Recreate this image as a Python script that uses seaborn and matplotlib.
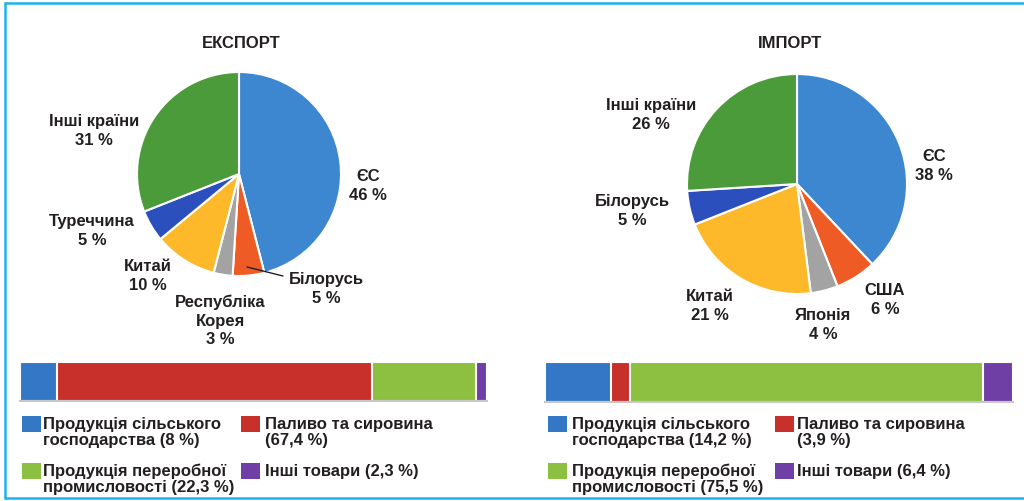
import matplotlib.pyplot as plt
import seaborn as sns
from matplotlib.patches import Rectangle

# --- дані ---
export_countries = ["ЄС", "Білорусь", "Республіка\nКорея", "Китай", "Туреччина", "Інші країни"]
export_shares = [46, 5, 3, 10, 5, 31]
import_countries = ["ЄС", "США", "Японія", "Китай", "Білорусь", "Інші країни"]
import_shares = [38, 6, 4, 21, 5, 26]

goods_names = ["Продукція сільського\nгосподарства", "Продукція переробної\nпромисловості",
               "Паливо та сировина", "Інші товари"]
export_goods = [8, 22.3, 67.4, 2.3]
import_goods = [14.2, 75.5, 3.9, 6.4]
bar_order = [0, 2, 1, 3]  # порядок сегментів у смузі

# --- оформлення ---
sns.set_theme(style="white")
plt.rcParams["font.family"] = ["Liberation Sans", "DejaVu Sans"]

country_colors = ["#3d86d0", "#ee5b25", "#a3a3a3", "#fdb92a", "#2b50be", "#4c9b3a"]
goods_colors = ["#3477c6", "#8dbf41", "#c8302b", "#6f3fa6"]
text_color = "#231f20"
fs = 12

export_label_pos = [(368, 186), (326, 289), (220, 321), (148, 276), (92, 231), (94, 131)]
import_label_pos = [(934, 166), (885, 300), (823, 325), (710, 306), (632, 211), (651, 115)]


def pct(v):
    return f"{v:g}".replace(".", ",")


fig = plt.figure(figsize=(10.24, 5.02), dpi=100)
ax = fig.add_axes([0, 0, 1, 1])


def draw_pie(shares, names, center, radius, label_pos):
    ax.pie(
        shares,
        colors=country_colors,
        center=center,
        radius=radius,
        startangle=-90,
        counterclock=True,
        wedgeprops=dict(edgecolor="white", linewidth=1.5),
    )
    for name, v, (x, y) in zip(names, shares, label_pos):
        ax.text(x, y, f"{name}\n{pct(v)} %", ha="center", va="center", fontsize=fs,
                fontweight="bold", color=text_color, linespacing=1.3)


draw_pie(export_shares, export_countries, (239, 175), 102, export_label_pos)
draw_pie(import_shares, import_countries, (797, 185), 110, import_label_pos)

ax.text(241, 43, "ЕКСПОРТ", ha="center", va="center", fontsize=fs, fontweight="bold", color=text_color)
ax.text(790, 44, "ІМПОРТ", ha="center", va="center", fontsize=fs, fontweight="bold", color=text_color)
ax.plot([247, 283], [268, 277], color=text_color, lw=1)


def draw_bar(x0, x1, y0, y1, values):
    bax = fig.add_axes([x0 / 1024, 1 - y1 / 502, (x1 - x0) / 1024, (y1 - y0) / 502])
    ordered = [values[i] for i in bar_order]
    colors = [goods_colors[i] for i in bar_order]
    cum = []
    total = 0
    for v in ordered:
        total += v
        cum.append(total)
    # накладені смуги від найдовшої до найкоротшої
    for c, col in reversed(list(zip(cum, colors))):
        sns.barplot(x=[c], y=[0], orient="h", color=col, saturation=1, width=1,
                    edgecolor="white", linewidth=1.5, ax=bax)
    bax.set_xlim(0, 100)
    bax.set_ylim(0.5, -0.5)
    bax.set_xticks([])
    bax.set_yticks([])
    bax.set_xlabel("")
    bax.set_ylabel("")
    for s in ["top", "left", "right"]:
        bax.spines[s].set_visible(False)
    bax.spines["bottom"].set_color("#c8c8c8")
    bax.spines["bottom"].set_linewidth(1.5)


draw_bar(20, 487, 363, 402, export_goods)
draw_bar(545, 1013, 363, 403, import_goods)


def draw_legend(values, col_sq, col_tx):
    rows = [417, 464]
    for i, (name, v) in enumerate(zip(goods_names, values)):
        col, row = i // 2, i % 2
        sep = "\n" if name == "Паливо та сировина" else " "
        ax.add_patch(Rectangle((col_sq[col], rows[row]), 19, 16, color=goods_colors[i], lw=0))
        ax.text(col_tx[col], rows[row], f"{name}{sep}({pct(v)} %)", ha="left", va="top",
                fontsize=fs, fontweight="bold", color=text_color, linespacing=1.05)


draw_legend(export_goods, [22, 241], [43, 265])
draw_legend(import_goods, [548, 775], [572, 797])

# рамка
border = "#1eb2ea"
ax.plot([5, 1024], [4, 4], color=border, lw=1.8)
ax.plot([5, 5], [4, 499], color=border, lw=1.8)
ax.plot([5, 1024], [499, 499], color=border, lw=1.8)

ax.set_xlim(0, 1024)
ax.set_ylim(502, 0)
ax.axis("off")

plt.savefig("out.png", dpi=100)
